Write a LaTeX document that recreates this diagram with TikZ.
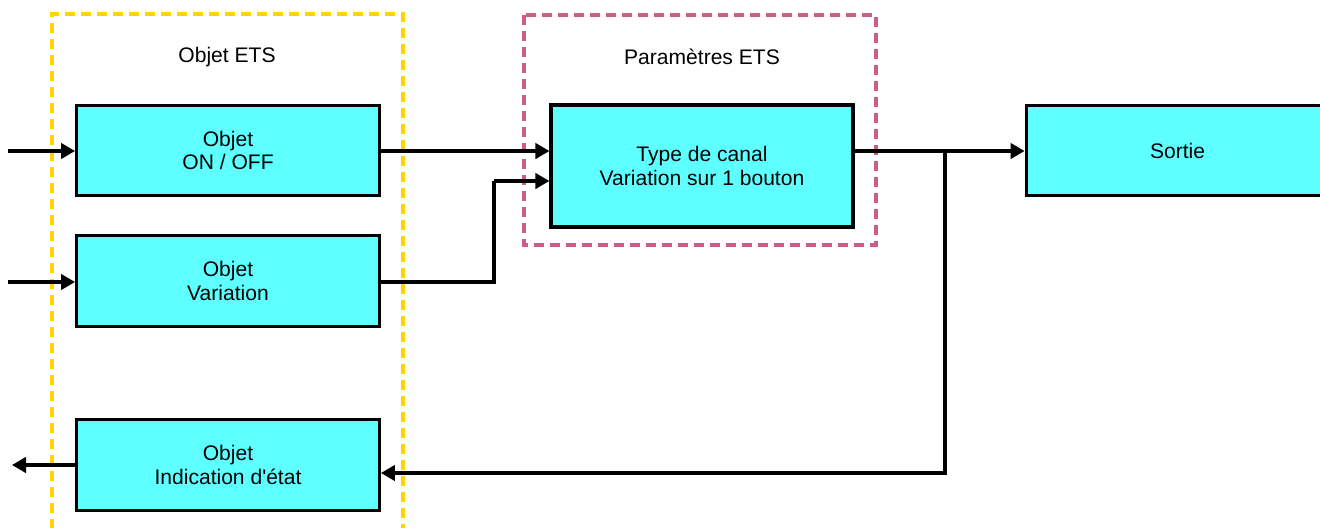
\documentclass[tikz,border=0pt]{standalone}
\usepackage{fontspec}
\setmainfont{Liberation Sans}
\usepackage{tikz}
\usetikzlibrary{positioning, arrows.meta, calc}

\definecolor{boxcyan}{RGB}{94,255,255}
\definecolor{etsyellow}{RGB}{255,212,0}
\definecolor{etspink}{RGB}{204,92,136}

\begin{document}
\begin{tikzpicture}[
    x=0.75pt, y=-0.75pt,
    box/.style={rectangle, draw=black, line width=2.4pt, fill=boxcyan,
                minimum width=227pt, minimum height=68pt,
                font=\fontsize{15.8pt}{17.5pt}\selectfont, align=center, inner sep=0pt},
    frame/.style={draw=#1, line width=2.4pt, dash pattern=on 7.5pt off 4.5pt},
    arr/.style={-{Triangle[length=10.5pt, width=11.5pt]}, line width=2.4pt},
    wire/.style={line width=2.4pt},
    title/.style={font=\fontsize{15.8pt}{17.5pt}\selectfont},
]
\useasboundingbox (0,0) rectangle (1320,528);

% Dashed frames
\draw[frame=etsyellow] (52,545) -- (52,14) -- (403,14) -- (403,545);
\draw[frame=etspink] (524,15) rectangle (876,245);

% Frame titles
\node[title] (objtitle) at (227,57) {Objet ETS};
\node[title] (partitle) at (702,57) {Paramètres ETS};

% Objects
\node[box] (onoff) at (228,150.5) {Objet\\ON / OFF};
\node[box] (vari) at (228,281) {Objet\\Variation};
\node[box] (etat) at (228,465) {Objet\\Indication d\textquotesingle état};

% Channel type
\node[box, minimum width=226.5pt, minimum height=91.5pt] (canal) at (702,166) {Type de canal\\Variation sur 1 bouton};

% Output
\node[box] (sortie) at (1177.5,150.5) {Sortie};

% Free ends and bends
\coordinate (in1) at (8,151);
\coordinate (in2) at (8,282);
\coordinate (out3) at (12,465);
\coordinate (bend) at (494,181);
\coordinate (split) at (945,151);

% === Arrows ===
\draw[arr] (in1) -- (onoff.west |- in1);
\draw[arr] (in2) -- (vari.west |- in2);
\draw[arr] (etat.west) -- (out3);

\draw[arr] (onoff.east |- in1) -- (canal.west |- in1);
\draw[wire] (vari.east |- in2) -| (bend);
\draw[arr] (bend) -- (canal.west |- bend);

\draw[arr] (canal.east |- split) -- (sortie.west |- split);
\draw[arr] (split) |- ([yshift=-6pt]etat.east);

\end{tikzpicture}
\end{document}
